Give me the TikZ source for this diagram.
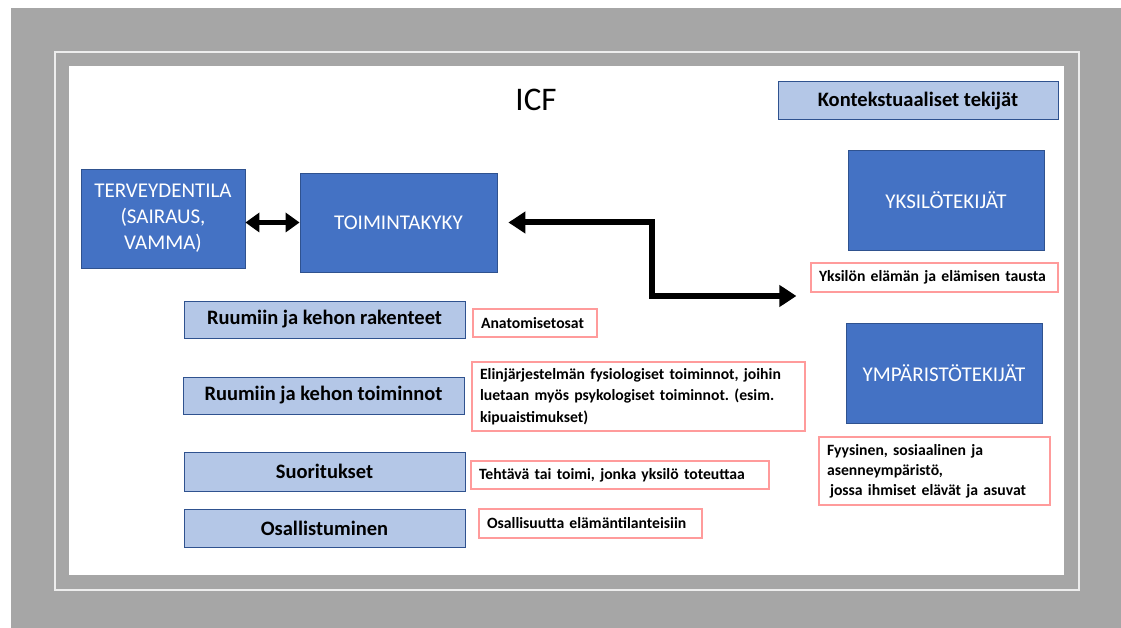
\documentclass[tikz,border=0pt]{standalone}
\usepackage{fontspec}
\setmainfont{Carlito}
\usetikzlibrary{arrows.meta}

\definecolor{harmaa}{HTML}{A6A6A6}
\definecolor{tsininen}{HTML}{4472C4}
\definecolor{sinireuna}{HTML}{2F528F}
\definecolor{vsininen}{HTML}{B4C7E7}
\definecolor{punareuna}{HTML}{FF9B9B}

\begin{document}
\frenchspacing
\begin{tikzpicture}[x=1pt,y=-1pt,
    tumma/.style={draw=sinireuna,fill=tsininen,text=white,line width=0.8pt,
        inner sep=0pt,align=center,font=\fontsize{21}{26}\selectfont},
    vaalea/.style={draw=sinireuna,fill=vsininen,line width=1pt,inner sep=0pt,
        minimum width=281pt,font=\bfseries\fontsize{20.5}{24}\selectfont},
    selite/.style={draw=punareuna,fill=white,line width=1.2pt,inner xsep=8pt,
        inner ysep=0pt,align=left,font=\bfseries\fontsize{15.7}{21.5}\selectfont},
    kaksinuoli/.style={line width=4.5pt,{Triangle[length=14pt,width=19pt]}-{Triangle[length=14pt,width=19pt]}},
    isonuoli/.style={line width=6pt,{Triangle[length=17pt,width=21pt]}-{Triangle[length=17pt,width=21pt]}}]
    \useasboundingbox (0,0) rectangle (1121,628);

    % kehys
    \fill[harmaa] (11,8) rectangle (1121,628);
    \draw[white!80!harmaa,line width=1.3pt] (55,52) rectangle (1079,590);
    \fill[white] (69,66) rectangle (1064,575);

    \node (icf) at (536,100) {\fontsize{33}{36}\selectfont ICF};

    % pääkäsitteet
    \node[tumma,minimum width=164pt,minimum height=99pt] (terv) at (163,218.5)
        {TERVEYDENTILA\\(SAIRAUS,\\VAMMA)};
    \node[tumma,minimum width=197pt,minimum height=99pt] (toim) at (398.5,222.5) {TOIMINTAKYKY};

    % kontekstuaaliset tekijät
    \node[vaalea,minimum width=280pt,minimum height=38pt]
        (konteksti) at (918,101) {Kontekstuaaliset tekijät};
    \node[tumma,minimum width=196pt,minimum height=100pt] (yksilo) at (946,200) {YKSILÖTEKIJÄT};
    \node[selite,text width=231pt,minimum height=29pt] (tausta) at (934.5,277.5)
        {Yksilön elämän ja elämisen tausta};
    \node[tumma,minimum width=196pt,minimum height=100pt] (ymparisto) at (944,373) {YMPÄRISTÖTEKIJÄT};
    \node[selite,text width=215pt,minimum height=68pt,font=\bfseries\fontsize{15.7}{20}\selectfont]
        (fyysinen) at (934.5,471)
        {Fyysinen, sosiaalinen ja\\asenneympäristö,\\\hspace*{3pt}jossa ihmiset elävät ja asuvat};

    % osa-alueet
    \node[vaalea,minimum height=37pt] (rakenteet) at (324.5,319.5) {Ruumiin ja kehon rakenteet};
    \node[vaalea,minimum height=37pt] (toiminnot) at (323.5,395.5) {Ruumiin ja kehon toiminnot};
    \node[vaalea,minimum height=39pt] (suoritukset) at (324.5,471.5) {Suoritukset};
    \node[vaalea,minimum height=38pt] (osallistuminen) at (324.5,528) {Osallistuminen};

    % selitteet
    \node[selite,text width=108pt,minimum height=28pt] (anatomia) at (535,323) {Anatomisetosat};
    \node[selite,text width=317pt,minimum height=69pt] (elin) at (638.5,396.5)
        {Elinjärjestelmän fysiologiset toiminnot, joihin\\luetaan myös psykologiset toiminnot. (esim.\\kipuaistimukset)};
    \node[selite,text width=282pt,minimum height=28pt] (tehtava) at (620,475)
        {Tehtävä tai toimi, jonka yksilö toteuttaa};
    \node[selite,text width=207pt,minimum height=29pt] (osallisuus) at (590.5,523.5)
        {Osallisuutta elämäntilanteisiin};

    % nuolet
    \coordinate (kulma) at (652,296);
    \draw[kaksinuoli] (terv.east |- toim.west) -- (toim.west);
    \draw[isonuoli,shorten <=11pt,shorten >=14pt,line join=miter]
        (toim.east) -- (toim.east -| kulma) -- (kulma) -- (kulma -| tausta.west);
\end{tikzpicture}
\end{document}
